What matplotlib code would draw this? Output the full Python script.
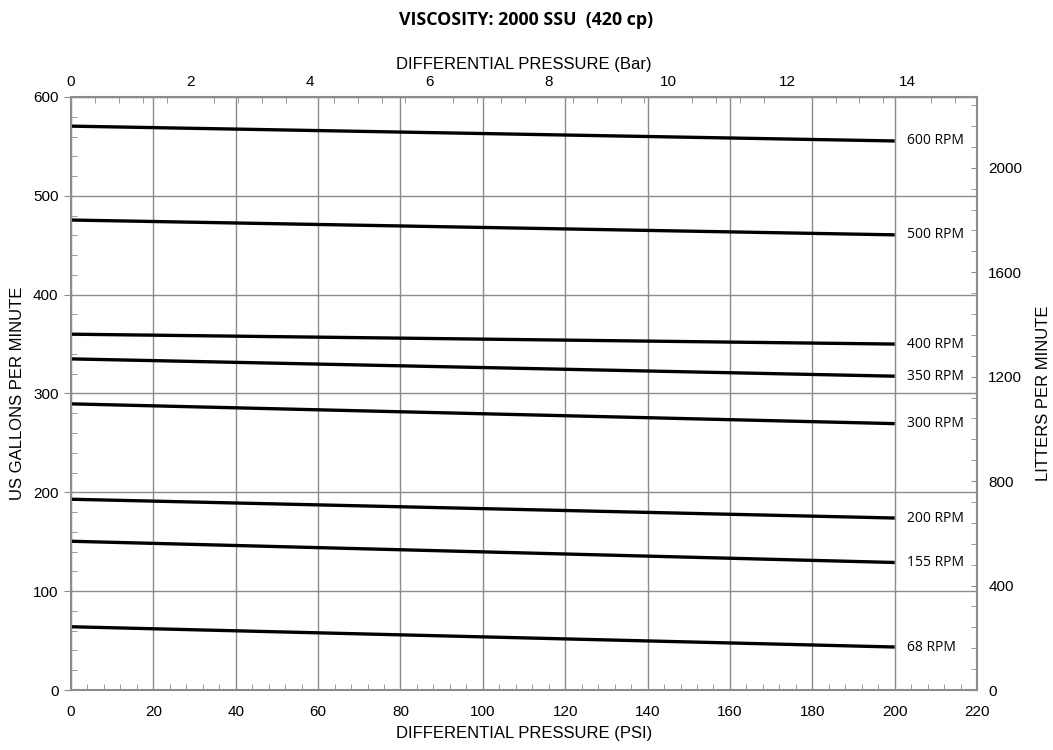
import matplotlib.pyplot as plt
from matplotlib.ticker import MultipleLocator, FixedLocator

# flow (US GPM) at 0 PSI and 200 PSI for each speed
rpm_labels = ['600 RPM', '500 RPM', '400 RPM', '350 RPM', '300 RPM', '200 RPM', '155 RPM', '68 RPM']
psi = [0, 200]
gpm_start = [570.5, 475.5, 360, 335, 289.5, 193, 150.5, 64]
gpm_end = [555.5, 460.5, 350, 317.5, 269.5, 174, 129, 43.5]

PSI_PER_BAR = 14.5038
LPM_PER_GPM = 3.78541

plt.rcParams['font.family'] = ['Liberation Sans', 'DejaVu Sans']
grid_c = '#8c8c8c'

fig = plt.figure(figsize=(10.53, 7.5), dpi=100)
ax = fig.add_axes([0.0674, 0.08, 0.8605, 0.7907])

for lab, a, b in zip(rpm_labels, gpm_start, gpm_end):
    ax.plot(psi, [a, b], color='black', lw=2.4, solid_capstyle='butt')
    ax.text(203, b, lab, fontsize=10, va='center', ha='left', family=['Open Sans', 'DejaVu Sans'])

ax.set_xlim(0, 220)
ax.set_ylim(0, 600)
ax.xaxis.set_major_locator(MultipleLocator(20))
ax.xaxis.set_minor_locator(MultipleLocator(4))
ax.yaxis.set_major_locator(MultipleLocator(100))
ax.yaxis.set_minor_locator(MultipleLocator(20))
ax.grid(True, which='major', color=grid_c, lw=1.0)
ax.tick_params(axis='x', which='major', direction='in', length=0, labelsize=11, pad=11)
ax.tick_params(which='minor', direction='in', length=4, color=grid_c)
ax.tick_params(axis='y', which='major', length=5, direction='out', color=grid_c, labelsize=11, pad=4)
ax.set_xlabel('DIFFERENTIAL PRESSURE (PSI)', fontsize=12, labelpad=5)
ax.set_ylabel('US GALLONS PER MINUTE', fontsize=12, labelpad=6)
for s in ax.spines.values():
    s.set_color(grid_c)
    s.set_linewidth(1.5)

# top axis in bar
top = ax.secondary_xaxis('top', functions=(lambda x: x / PSI_PER_BAR, lambda b: b * PSI_PER_BAR))
top.xaxis.set_major_locator(FixedLocator(range(0, 15, 2)))
top.xaxis.set_minor_locator(MultipleLocator(0.4))
top.tick_params(which='major', direction='in', length=0, labelsize=11, pad=6)
top.tick_params(which='minor', direction='in', length=4, color=grid_c)
top.set_xlabel('DIFFERENTIAL PRESSURE (Bar)', fontsize=12, labelpad=4)
top.spines['top'].set_color(grid_c)

# right axis in litres per minute
right = ax.secondary_yaxis('right', functions=(lambda g: g * LPM_PER_GPM, lambda l: l / LPM_PER_GPM))
right.yaxis.set_major_locator(FixedLocator([0, 400, 800, 1200, 1600, 2000]))
right.yaxis.set_minor_locator(MultipleLocator(80))
right.tick_params(which='major', direction='in', length=4, color=grid_c, labelsize=11, pad=8)
right.tick_params(which='minor', direction='in', length=4, color=grid_c)
right.set_ylabel('LITTERS PER MINUTE', fontsize=12, labelpad=10)
right.spines['right'].set_color(grid_c)
right.spines['right'].set_linewidth(1.5)

fig.text(0.5, 0.973, 'VISCOSITY: 2000 SSU  (420 cp)', ha='center', va='center',
         fontsize=12.8, fontweight='bold', family=['Open Sans', 'DejaVu Sans'])

fig.savefig('out.png', dpi=100)
